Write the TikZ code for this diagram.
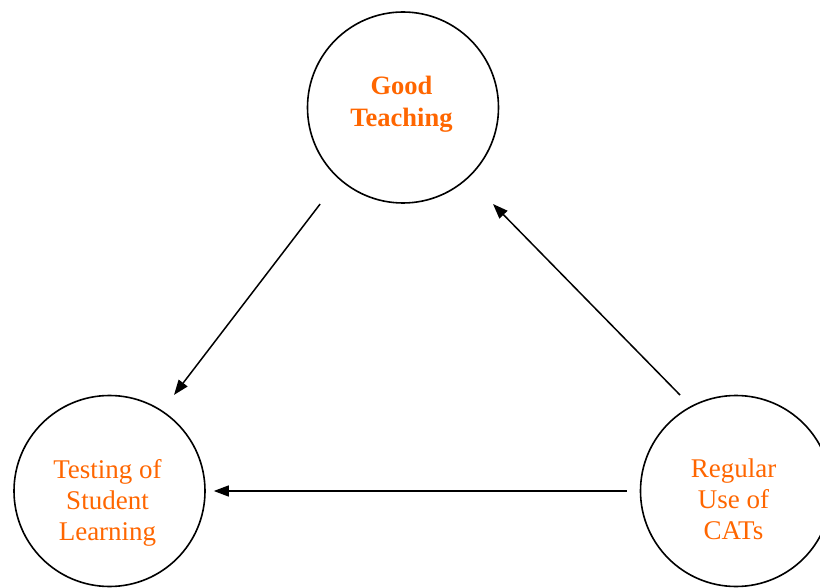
\documentclass[tikz,border=0pt]{standalone}
\usepackage{fontspec}
\setmainfont{Liberation Serif}
\usetikzlibrary{arrows.meta}
\definecolor{catorange}{HTML}{FF6600}
\begin{document}
\begin{tikzpicture}[x=1pt,y=-1pt,
  cyc/.style={circle, draw=black, line width=1.6pt, minimum size=191pt, inner sep=0pt},
  lbl/.style={text=catorange, align=center, inner sep=0pt, anchor=north,
              font=\fontsize{27}{31}\selectfont},
  arr/.style={line width=1.5pt, -{Triangle[length=15pt,width=11pt]}}]
\useasboundingbox (0,0) rectangle (820,588);

% the three stages of the cycle
\node[cyc] (good) at (403,107.5) {};
\node[cyc] (test) at (109.5,491) {};
\node[cyc] (cats) at (736,491) {};

% stage labels
\node[lbl, font=\fontsize{26.5}{32}\selectfont\bfseries] (goodtxt) at (401.5,76) {Good\\Teaching};
\node[lbl] (testtxt) at (107.5,459) {Testing of\\Student\\Learning};
\node[lbl] (catstxt) at (733.5,459) {Regular\\Use of\\CATs};

% connectors
\draw[arr, shorten <=121.6pt, shorten >=121pt]
  ([xshift=-9pt]good.center) -- ([xshift=-9pt]test.center);
\coordinate (upTail) at (680,395);
\coordinate (upTip) at (493,204);
\draw[arr] (upTail) -- (upTip);
\draw[arr, shorten <=13pt, shorten >=8pt] (cats) -- (test);
\end{tikzpicture}
\end{document}
